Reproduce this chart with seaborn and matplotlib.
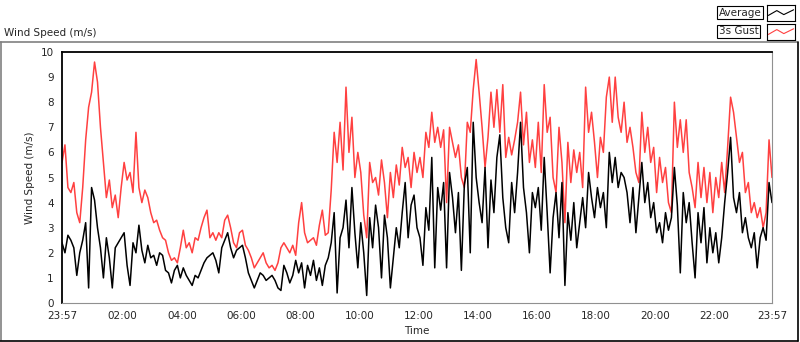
import numpy as np
import pandas as pd
import matplotlib
matplotlib.use('Agg')
import matplotlib.pyplot as plt
from matplotlib.lines import Line2D
import seaborn as sns

# one reading every 6 minutes, starting 23:57
step_min = 6

gust = [
    5.6, 6.3, 4.6, 4.4, 4.8, 3.6, 3.2, 4.6, 6.5, 7.8,
    8.4, 9.6, 8.8, 7.0, 5.6, 4.2, 4.9, 3.8, 4.3, 3.4,
    4.6, 5.6, 4.9, 5.2, 4.4, 6.8, 4.6, 4.0, 4.5, 4.2,
    3.6, 3.2, 3.3, 2.9, 2.6, 2.5, 2.0, 1.7, 1.8, 1.6,
    2.2, 2.9, 2.2, 2.4, 2.0, 2.6, 2.5, 3.0, 3.4, 3.7,
    2.6, 2.8, 2.5, 2.8, 2.6, 3.3, 3.5, 3.0, 2.4, 2.2,
    2.8, 2.9, 2.3, 2.1, 1.8, 1.4, 1.6, 1.8, 2.0, 1.6,
    1.4, 1.5, 1.3, 1.6, 2.2, 2.4, 2.2, 2.0, 2.3, 1.9,
    3.2, 4.0, 2.8, 2.4, 2.5, 2.6, 2.3, 3.1, 3.7, 2.7,
    2.8, 4.5, 6.8, 5.6, 7.2, 5.3, 8.6, 6.0, 7.4, 5.0,
    6.0, 5.2, 3.5, 2.6, 5.6, 4.8, 5.0, 4.3, 5.7, 4.8,
    3.4, 5.2, 4.2, 5.5, 4.7, 6.2, 5.4, 5.8, 4.6, 6.0,
    5.2, 5.8, 5.0, 6.8, 6.2, 7.6, 6.4, 7.0, 6.2, 6.9,
    4.0, 7.0, 6.4, 5.8, 6.3, 5.0, 4.6, 7.2, 6.8, 8.5,
    9.7, 8.4, 7.0, 5.4, 6.6, 8.4, 7.0, 8.5, 6.8, 8.7,
    5.8, 6.6, 5.9, 6.5, 7.2, 8.4, 6.3, 7.6, 5.6, 6.5,
    5.4, 7.2, 5.2, 8.7, 6.8, 7.4, 5.0, 4.4, 7.0, 5.6,
    3.2, 6.4, 4.8, 6.1, 5.2, 6.0, 4.6, 8.6, 6.8, 7.6,
    6.4, 5.0, 6.6, 6.0, 8.2, 9.0, 7.2, 9.0, 7.4, 6.8,
    8.0, 6.4, 7.0, 6.2, 5.2, 4.8, 7.6, 6.0, 7.0, 5.6,
    6.2, 4.4, 5.8, 4.8, 5.4, 4.0, 3.6, 8.0, 6.2, 7.3,
    6.0, 7.3, 5.2, 4.6, 3.8, 5.6, 4.2, 5.4, 4.0, 5.2,
    3.6, 5.0, 4.2, 5.6, 4.4, 6.2, 8.2, 7.6, 6.6, 5.6,
    6.0, 4.4, 4.8, 3.6, 4.0, 3.4, 3.8, 3.0, 3.6, 6.5,
    5.0,
]

average = [
    2.4, 2.0, 2.7, 2.5, 2.2, 1.1, 2.0, 2.5, 3.2, 0.6,
    4.6, 4.1, 3.0, 2.2, 1.0, 2.6, 1.8, 0.6, 2.2, 2.4,
    2.6, 2.8, 1.5, 0.7, 2.4, 2.0, 3.1, 2.1, 1.6, 2.3,
    1.8, 1.9, 1.5, 2.0, 1.9, 1.3, 1.2, 0.8, 1.3, 1.5,
    1.0, 1.4, 1.1, 0.9, 0.7, 1.1, 1.0, 1.3, 1.6, 1.8,
    1.9, 2.0, 1.7, 1.2, 2.2, 2.5, 2.8, 2.2, 1.8, 2.1,
    2.2, 2.3, 1.8, 1.2, 0.9, 0.6, 0.9, 1.2, 1.1, 0.9,
    1.0, 1.1, 0.9, 0.6, 0.5, 1.5, 1.2, 0.8, 1.1, 1.7,
    1.2, 1.6, 0.6, 1.5, 1.1, 1.7, 0.9, 1.4, 0.7, 1.5,
    1.8, 2.4, 3.6, 0.4, 2.6, 3.0, 4.1, 2.2, 4.6, 2.8,
    1.4, 3.2, 2.0, 0.3, 3.4, 2.2, 3.9, 3.0, 1.0, 3.5,
    2.6, 0.6, 1.8, 3.0, 2.2, 3.6, 4.8, 2.6, 3.9, 4.3,
    3.0, 2.6, 1.5, 3.8, 2.9, 5.8, 1.4, 4.6, 3.7, 4.8,
    1.4, 5.2, 4.2, 2.8, 4.4, 1.3, 4.7, 5.4, 2.0, 7.2,
    5.0, 4.0, 3.2, 5.4, 2.2, 4.9, 3.6, 5.8, 6.7, 4.2,
    3.0, 2.4, 4.8, 3.6, 5.2, 7.2, 4.6, 3.6, 2.0, 4.4,
    3.8, 4.6, 2.9, 5.8, 3.6, 1.2, 3.4, 4.4, 2.6, 4.8,
    0.7, 3.6, 2.5, 4.0, 2.2, 3.2, 4.2, 3.0, 5.2, 4.2,
    3.4, 4.6, 3.8, 4.4, 3.0, 6.0, 4.8, 5.8, 4.6, 5.2,
    5.0, 4.4, 3.2, 4.6, 2.8, 4.2, 5.6, 4.0, 4.8, 3.4,
    4.0, 2.8, 3.2, 2.4, 3.6, 2.9, 3.4, 5.4, 3.9, 1.2,
    4.4, 3.2, 4.0, 2.4, 1.0, 3.6, 2.4, 3.8, 1.6, 3.0,
    2.0, 2.8, 1.6, 2.6, 4.0, 5.2, 6.6, 4.2, 3.6, 4.4,
    2.8, 3.4, 2.6, 2.2, 2.8, 1.4, 2.6, 3.0, 2.5, 4.8,
    4.0,
]

tick_minutes = [0, 123, 243, 363, 483, 603, 723, 843, 963, 1083, 1203, 1323, 1440]
tick_labels = ['23:57', '02:00', '04:00', '06:00', '08:00', '10:00', '12:00',
               '14:00', '16:00', '18:00', '20:00', '22:00', '23:57']

minutes = np.arange(len(gust)) * step_min
df = pd.concat([
    pd.DataFrame({'t': minutes, 'speed': gust, 'series': '3s Gust'}),
    pd.DataFrame({'t': minutes, 'speed': average, 'series': 'Average'}),
])

sns.set_style('white')
plt.rcParams['font.family'] = ['DejaVu Sans']

fig = plt.figure(figsize=(8, 3.42), dpi=100)
ax = fig.add_axes([62 / 800, 1 - 303 / 342, 710 / 800, 251 / 342])

sns.lineplot(data=df, x='t', y='speed', hue='series',
             hue_order=['3s Gust', 'Average'],
             palette={'3s Gust': '#ff4040', 'Average': 'black'},
             estimator=None, linewidth=1.1, legend=False, ax=ax)

ax.set_xlim(0, 1440)
ax.set_ylim(0, 10)
ax.set_xticks(tick_minutes)
ax.set_xticklabels(tick_labels)
ax.set_xticks(np.arange(3, 1440, 12), minor=True)
ax.set_yticks(range(0, 11))
ax.tick_params(axis='both', which='major', direction='out', length=4, width=1,
               labelsize=7.5, color='black', pad=2)
ax.tick_params(axis='x', which='minor', direction='out', length=2.5, width=1, color='black')
ax.set_xlabel('Time', fontsize=7.5)
ax.xaxis.set_label_coords(0.5, -0.09)
ax.set_ylabel('Wind Speed (m/s)', fontsize=7.5)
ax.yaxis.set_label_coords(-0.038, 0.5)

ax.spines['top'].set_color('black')
ax.spines['left'].set_color('black')
ax.spines['top'].set_linewidth(1.3)
ax.spines['left'].set_linewidth(1.3)
ax.spines['bottom'].set_color('#909090')
ax.spines['right'].set_color('#909090')

# outer panel frame
def fline(x0, y0, x1, y1, color, lw=1.0):
    fig.add_artist(Line2D([x0 / 800, x1 / 800], [1 - y0 / 342, 1 - y1 / 342],
                          transform=fig.transFigure, color=color, lw=lw))

fline(0, 42, 797, 42, '#808080', 1.2)
fline(1, 42, 1, 340, '#808080', 1.2)
fline(0, 340.5, 798, 340.5, 'black', 1.2)
fline(797.5, 42, 797.5, 341, 'black', 1.2)

fig.text(4 / 800, 1 - 33 / 342, 'Wind Speed (m/s)', fontsize=7.5, va='center', ha='left')

# legend in the corner
for name, color, ytop in [('Average', 'black', 4), ('3s Gust', '#ff4040', 23)]:
    fig.text(719 / 800, 1 - (ytop + 8.5) / 342, name, fontsize=7.5, va='center', ha='left',
             bbox=dict(boxstyle='square,pad=0.15', fc='white', ec='black', lw=0.8))
    iax = fig.add_axes([767 / 800, 1 - (ytop + 17) / 342, 28 / 800, 16 / 342])
    iax.plot([0.05, 0.35, 0.6, 0.95], [0.35, 0.65, 0.4, 0.7], color=color, lw=0.8)
    iax.set_xlim(0, 1)
    iax.set_ylim(0, 1)
    iax.set_xticks([])
    iax.set_yticks([])
    for s in iax.spines.values():
        s.set_color('black')
        s.set_linewidth(0.8)

fig.savefig('out.png', dpi=100)
